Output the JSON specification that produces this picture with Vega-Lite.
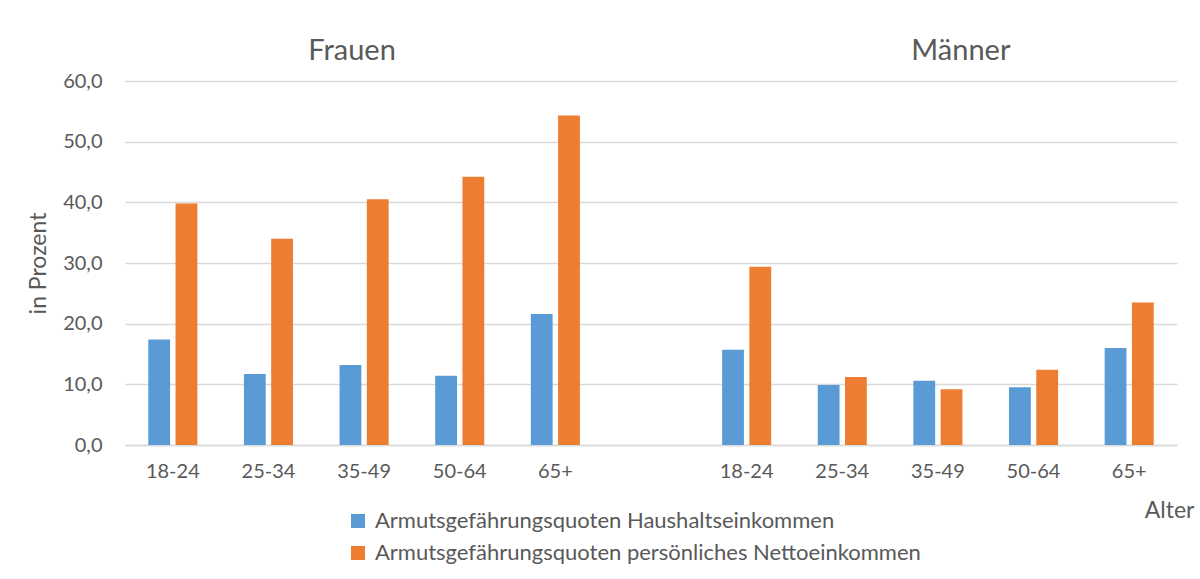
{
  "$schema": "https://vega.github.io/schema/vega-lite/v6.json",
  "autosize": "none",
  "width": 1052,
  "height": 364,
  "padding": {"left": 125, "top": 81, "right": 23, "bottom": 134},
  "background": "white",
  "config": {
    "font": "Lato",
    "view": {"stroke": null},
    "locale": {"number": {"decimal": ",", "thousands": ".", "grouping": [3], "currency": ["", " €"]}},
    "axis": {
      "labelFont": "Lato",
      "titleFont": "Lato",
      "labelColor": "#595959",
      "titleColor": "#595959",
      "labelFontSize": 20,
      "titleFontSize": 23,
      "titleFontWeight": "normal",
      "gridColor": "#d9d9d9",
      "gridWidth": 1.5,
      "domainColor": "#d9d9d9",
      "domainWidth": 1.5,
      "ticks": false
    },
    "legend": {
      "labelFont": "Lato",
      "labelFontSize": 22,
      "labelColor": "#595959",
      "labelLimit": 0
    }
  },
  "data": {
    "values": [
      {"key": "F|18-24", "series": "Armutsgefährungsquoten Haushaltseinkommen", "value": 17.4},
      {"key": "F|18-24", "series": "Armutsgefährungsquoten persönliches Nettoeinkommen", "value": 39.8},
      {"key": "F|25-34", "series": "Armutsgefährungsquoten Haushaltseinkommen", "value": 11.7},
      {"key": "F|25-34", "series": "Armutsgefährungsquoten persönliches Nettoeinkommen", "value": 34.0},
      {"key": "F|35-49", "series": "Armutsgefährungsquoten Haushaltseinkommen", "value": 13.2},
      {"key": "F|35-49", "series": "Armutsgefährungsquoten persönliches Nettoeinkommen", "value": 40.5},
      {"key": "F|50-64", "series": "Armutsgefährungsquoten Haushaltseinkommen", "value": 11.4},
      {"key": "F|50-64", "series": "Armutsgefährungsquoten persönliches Nettoeinkommen", "value": 44.2},
      {"key": "F|65+", "series": "Armutsgefährungsquoten Haushaltseinkommen", "value": 21.6},
      {"key": "F|65+", "series": "Armutsgefährungsquoten persönliches Nettoeinkommen", "value": 54.3},
      {"key": "M|18-24", "series": "Armutsgefährungsquoten Haushaltseinkommen", "value": 15.7},
      {"key": "M|18-24", "series": "Armutsgefährungsquoten persönliches Nettoeinkommen", "value": 29.4},
      {"key": "M|25-34", "series": "Armutsgefährungsquoten Haushaltseinkommen", "value": 9.9},
      {"key": "M|25-34", "series": "Armutsgefährungsquoten persönliches Nettoeinkommen", "value": 11.2},
      {"key": "M|35-49", "series": "Armutsgefährungsquoten Haushaltseinkommen", "value": 10.6},
      {"key": "M|35-49", "series": "Armutsgefährungsquoten persönliches Nettoeinkommen", "value": 9.2},
      {"key": "M|50-64", "series": "Armutsgefährungsquoten Haushaltseinkommen", "value": 9.5},
      {"key": "M|50-64", "series": "Armutsgefährungsquoten persönliches Nettoeinkommen", "value": 12.4},
      {"key": "M|65+", "series": "Armutsgefährungsquoten Haushaltseinkommen", "value": 16.0},
      {"key": "M|65+", "series": "Armutsgefährungsquoten persönliches Nettoeinkommen", "value": 23.5}
    ]
  },
  "layer": [
    {
      "mark": {"type": "bar"},
      "encoding": {
        "x": {
          "field": "key",
          "type": "nominal",
          "sort": null,
          "scale": {
            "domain": ["F|18-24", "F|25-34", "F|35-49", "F|50-64", "F|65+", "gap", "M|18-24", "M|25-34", "M|35-49", "M|50-64", "M|65+"],
            "paddingInner": 0.487,
            "paddingOuter": 0.2435
          },
          "axis": {
            "title": "Alter",
            "labelAngle": 0,
            "labelPadding": 16,
            "labelExpr": "datum.label == 'gap' ? '' : substring(datum.label, 2)",
            "titleAnchor": "end",
            "titleAlign": "right",
            "titleBaseline": "middle",
            "titleX": 1069,
            "titleY": 65,
            "grid": false
          }
        },
        "xOffset": {
          "field": "series",
          "type": "nominal",
          "scale": {
            "domain": ["Armutsgefährungsquoten Haushaltseinkommen", "Armutsgefährungsquoten persönliches Nettoeinkommen"],
            "paddingInner": 0.2,
            "paddingOuter": 0
          }
        },
        "y": {
          "field": "value",
          "type": "quantitative",
          "scale": {"domain": [0, 60], "nice": false, "zero": true},
          "axis": {
            "title": "in Prozent",
            "values": [0, 10, 20, 30, 40, 50, 60],
            "format": ".1f",
            "labelPadding": 23,
            "domain": false,
            "titlePadding": 12
          }
        },
        "color": {
          "field": "series",
          "type": "nominal",
          "scale": {
            "domain": ["Armutsgefährungsquoten Haushaltseinkommen", "Armutsgefährungsquoten persönliches Nettoeinkommen"],
            "range": ["#5b9bd5", "#ed7d31"]
          },
          "legend": {
            "title": null,
            "orient": "none",
            "legendX": 222,
            "legendY": 429,
            "symbolType": "square",
            "symbolSize": 196,
            "symbolStrokeWidth": 0,
            "rowPadding": 10,
            "labelOffset": 6
          }
        }
      }
    },
    {
      "data": {"values": [{"label": "Frauen", "key": "F|35-49"}]},
      "mark": {"type": "text", "fontSize": 29, "color": "#595959", "dx": -12, "baseline": "middle", "align": "center"},
      "encoding": {
        "x": {"field": "key", "type": "nominal"},
        "y": {"datum": 65, "type": "quantitative"},
        "text": {"field": "label"}
      }
    },
    {
      "data": {"values": [{"label": "Männer", "key": "M|35-49"}]},
      "mark": {"type": "text", "fontSize": 29, "color": "#595959", "dx": 23, "baseline": "middle", "align": "center"},
      "encoding": {
        "x": {"field": "key", "type": "nominal"},
        "y": {"datum": 65, "type": "quantitative"},
        "text": {"field": "label"}
      }
    }
  ]
}
